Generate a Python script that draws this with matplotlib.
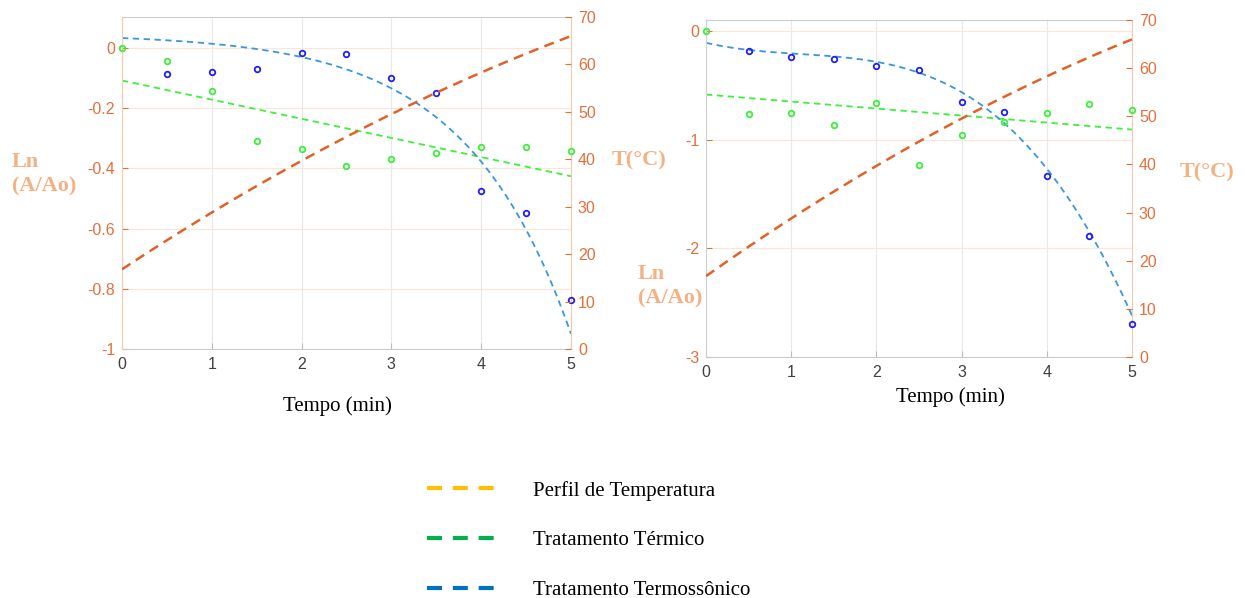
import matplotlib
matplotlib.use('Agg')
import matplotlib.pyplot as plt
from matplotlib.lines import Line2D
from matplotlib.ticker import FuncFormatter
import numpy as np

plt.rcParams['axes.unicode_minus'] = False
plt.rcParams['font.family'] = ['Liberation Sans', 'DejaVu Sans']

# tempo (min)
tempo = [0, 0.5, 1, 1.5, 2, 2.5, 3, 3.5, 4, 4.5, 5]

# painel esquerdo
termo_esq = [0, -0.043, -0.144, -0.308, -0.334, -0.391, -0.370, -0.349, -0.329, -0.329, -0.342]
sonico_esq = [0, -0.086, -0.080, -0.069, -0.016, -0.021, -0.101, -0.148, -0.474, -0.548, -0.837]
fit_termo_esq = [-0.108, -0.0636]            # intercepto, inclinação
fit_sonico_esq = [0.047, 0.014, 0.853]       # a - b*exp(k*t)

# painel direito
termo_dir = [0, -0.761, -0.752, -0.865, -0.663, -1.233, -0.960, -0.837, -0.758, -0.672, -0.724]
sonico_dir = [0, -0.184, -0.236, -0.255, -0.319, -0.362, -0.653, -0.742, -1.337, -1.883, -2.693]
fit_termo_dir = [-0.586, -0.0644]
fit_sonico_dir = [-0.110, -0.1825, 0.1217, -0.0371]   # polinômio c0 + c1 t + c2 t^2 + c3 t^3

# perfil de temperatura (°C)
fit_temp = [16.8, 12.52, -0.537]

legenda_txt = ['Perfil de Temperatura', 'Tratamento Térmico', 'Tratamento Termossônico']
legenda_cor = ['#ffc000', '#00b050', '#0070c0']

LARANJA = '#e2703c'
PESSEGO = '#f4b183'
AZUL_LINHA = '#3b98d8'
VERDE = '#3cf03c'
AZUL_PT = '#2020f0'

fig = plt.figure(figsize=(12.45, 5.98), dpi=100)
t = np.linspace(0, 5, 200)


def painel(rect, termo, sonico, fit_t, y_sonico, ylim, yticks, left_spine):
    ax = fig.add_axes(rect)
    ax.set_xlim(0, 5)
    ax.set_ylim(*ylim)
    ax.set_xticks(range(6))
    ax.set_yticks(yticks)
    ax.yaxis.set_major_formatter(FuncFormatter(lambda v, p: f'{v:g}'))
    ax.tick_params(axis='y', direction='in', length=4, colors=LARANJA, labelsize=11.5, pad=5)
    ax.tick_params(axis='x', direction='in', length=4, color='#bbbbbb', labelcolor='#404040',
                   labelsize=11.5, pad=6)
    for v in range(6):
        ax.axvline(v, color='#e8e8e8', lw=0.8, zorder=0)
    for v in yticks:
        ax.axhline(v, color='#fbe4d8', lw=0.8, zorder=0)
    ax.spines['top'].set_color('#cccccc')
    ax.spines['bottom'].set_color('#cccccc')
    ax.spines['left'].set_color(left_spine)
    ax.spines['right'].set_color('#f7c9ad')

    ax.plot(t, fit_t[0] + fit_t[1] * t, color=VERDE, lw=1.3, ls=(0, (3.5, 2.5)), zorder=2)
    ax.plot(t, y_sonico, color=AZUL_LINHA, lw=1.3, ls=(0, (3.5, 2.5)), zorder=2)
    ax.plot(tempo[1:], sonico[1:], 'o', mfc='none', mec=AZUL_PT, ms=4, mew=1.3, zorder=3,
            clip_on=False)
    ax.plot(tempo, termo, 'o', mfc='none', mec=VERDE, ms=4, mew=1.3, zorder=3, clip_on=False)

    ax2 = ax.twinx()
    ax2.set_ylim(0, 70)
    ax2.set_yticks(range(0, 71, 10))
    ax2.tick_params(axis='y', direction='in', length=4, colors=LARANJA, labelsize=11.5, pad=5)
    for s in ax2.spines.values():
        s.set_visible(False)
    temp = fit_temp[0] + fit_temp[1] * t + fit_temp[2] * t ** 2
    ax2.plot(t, temp, color='#e0622a', lw=1.8, ls=(0, (4, 2.6)), zorder=2)
    return ax


ax_e = painel([0.098, 0.4164, 0.3606, 0.5552], termo_esq, sonico_esq, fit_termo_esq,
              fit_sonico_esq[0] - fit_sonico_esq[1] * np.exp(fit_sonico_esq[2] * t),
              (-1, 0.103), [-1, -0.8, -0.6, -0.4, -0.2, 0], '#f7c9ad')
ax_d = painel([0.5671, 0.403, 0.3421, 0.5636], termo_dir, sonico_dir, fit_termo_dir,
              np.polyval(fit_sonico_dir[::-1], t),
              (-3, 0.1), [-3, -2, -1, 0], '#d0d0d0')

rot = dict(family=['Liberation Serif', 'DejaVu Serif'], fontsize=15, color='black')
fig.text(337 / 1245, 1 - 406 / 598, 'Tempo (min)', ha='center', va='center', **rot)
fig.text(950 / 1245, 1 - 397 / 598, 'Tempo (min)', ha='center', va='center', **rot)

lab = dict(family=['Liberation Serif', 'DejaVu Serif'], fontsize=16, fontweight='bold',
           color=PESSEGO, linespacing=1.3)
fig.text(12 / 1245, 1 - 174 / 598, 'Ln\n(A/Ao)', ha='left', va='center', **lab)
fig.text(612 / 1245, 1 - 160 / 598, 'T(°C)', ha='left', va='center', **lab)
fig.text(638 / 1245, 1 - 286 / 598, 'Ln\n(A/Ao)', ha='left', va='center', **lab)
fig.text(1180 / 1245, 1 - 172 / 598, 'T(°C)', ha='left', va='center', **lab)

handles = [Line2D([], [], color=c, lw=3, ls=(0, (3.6, 2.6))) for c in legenda_cor]
fig.legend(handles, legenda_txt, loc='upper left', bbox_to_anchor=(408 / 1245, 1 - 462 / 598),
           frameon=False, handlelength=3.3, handletextpad=1.8, labelspacing=1.45,
           prop={'family': 'Liberation Serif', 'size': 15})

fig.savefig('out.png', dpi=100)
